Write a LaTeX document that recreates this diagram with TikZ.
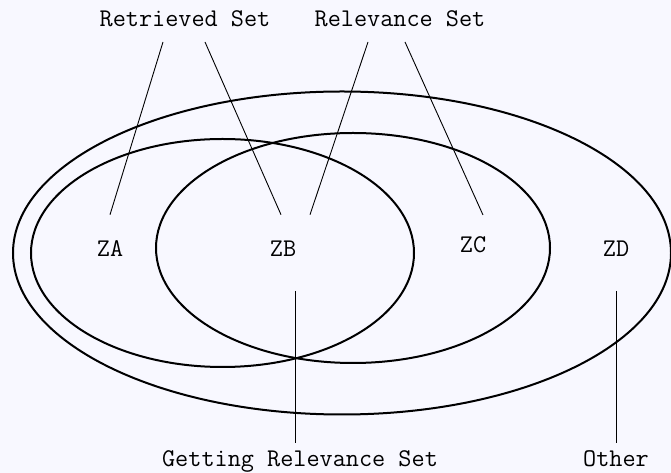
\documentclass[tikz,border=0pt]{standalone}
\usepackage{fontspec}
\usepackage{xcolor}
\usepackage{tikz}
\usetikzlibrary{positioning, calc}
\definecolor{paperbg}{HTML}{F8F8FF}
\newcommand{\setfont}{\ttfamily\fontsize{25.5}{29}\selectfont}
\tikzset{
  setlabel/.style={font=\setfont, inner sep=0pt, anchor=base},
  setline/.style={line width=2pt},
  pointer/.style={line width=0.9pt},
}

\begin{document}
\begin{tikzpicture}[x=1pt, y=1pt]
    \fill[paperbg] (0,0) rectangle (671,473);
    \useasboundingbox (0,0) rectangle (671,473);
    \draw[setline] (342,220) ellipse [x radius=329, y radius=161.5];
    \draw[setline] (222.5,220) ellipse [x radius=191.5, y radius=114];
    \draw[setline] (353,225) ellipse [x radius=197, y radius=115];
    \node[setlabel] (za) at (110,216.3) {ZA};
    \node[setlabel] (zb) at (283,216.3) {ZB};
    \node[setlabel] (zc) at (473,220.7) {ZC};
    \node[setlabel] (zd) at (616,216.3) {ZD};
    \node[setlabel] (retr) at (185,446) {Retrieved Set};
    \node[setlabel] (relev) at (400,446) {Relevance Set};
    \node[setlabel] (gotrel) at (300,6.3) {Getting Relevance Set};
    \node[setlabel] (other) at (616,6.3) {Other};
    \draw[pointer] ($(retr.base)+(-22,-15)$) -- ($(za.base)+(0,42)$);
    \draw[pointer] ($(retr.base)+(20,-15)$) -- ($(zb.base)+(-2,42)$);
    \draw[pointer] ($(relev.base)+(-32,-15)$) -- ($(zb.base)+(27,42)$);
    \draw[pointer] ($(relev.base)+(5,-15)$) -- ($(zc.base)+(10,37.3)$);
    \draw[pointer] ($(zb.base)+(12,-34.3)$) -- ($(gotrel.base)+(-5,23.7)$);
    \draw[pointer] ($(zd.base)+(0,-34.3)$) -- ($(other.base)+(0,23.7)$);
\end{tikzpicture}
\end{document}
